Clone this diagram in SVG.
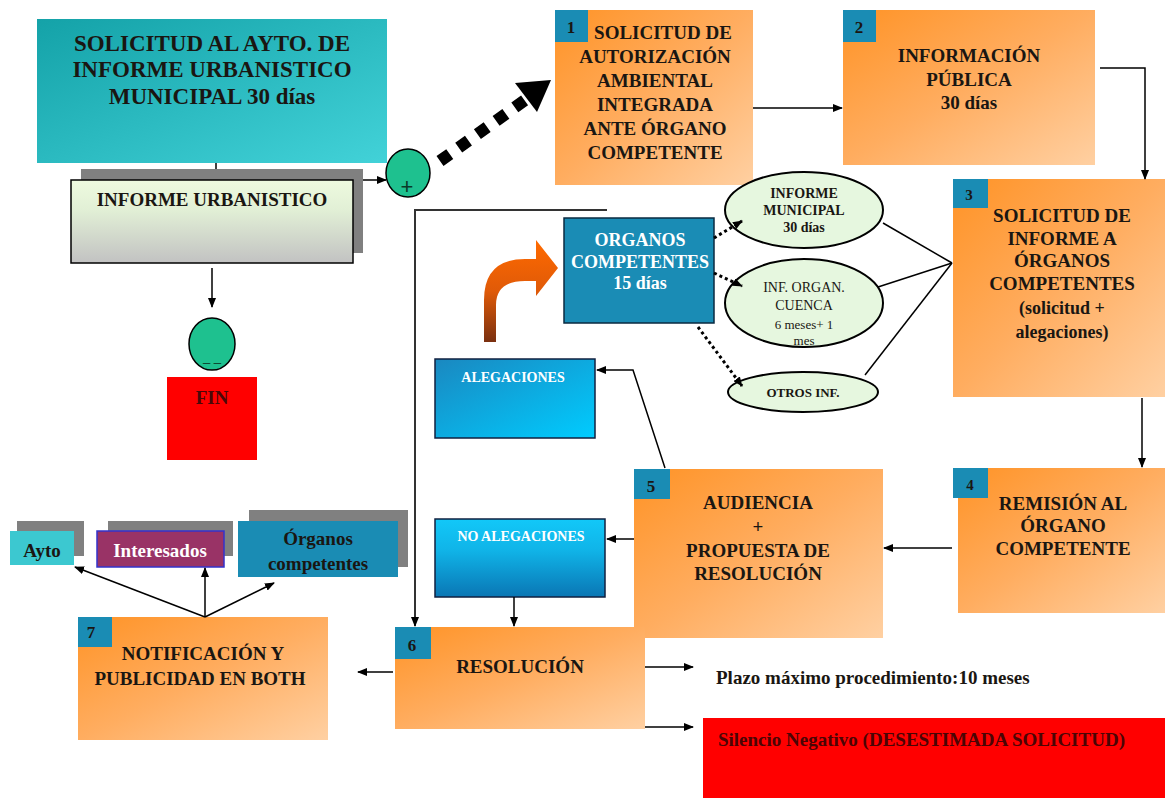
<svg xmlns="http://www.w3.org/2000/svg" width="1165" height="798" viewBox="0 0 1165 798">
<defs>
<linearGradient id="gOr" x1="0" y1="0" x2="1" y2="1"><stop offset="0" stop-color="#ff9326"/><stop offset="0.5" stop-color="#ffad60"/><stop offset="1" stop-color="#ffd0a2"/></linearGradient>
<linearGradient id="gTeal" x1="0" y1="0" x2="1" y2="1"><stop offset="0" stop-color="#14a2a8"/><stop offset="1" stop-color="#42d2d8"/></linearGradient>
<linearGradient id="gInf" x1="0" y1="0" x2="0" y2="1"><stop offset="0" stop-color="#eefadf"/><stop offset="0.35" stop-color="#e2f0d6"/><stop offset="1" stop-color="#c2c2c2"/></linearGradient>
<linearGradient id="gAleg" x1="0" y1="0" x2="1" y2="1"><stop offset="0" stop-color="#1a88c0"/><stop offset="1" stop-color="#00ccff"/></linearGradient>
<linearGradient id="gNoAleg" x1="0" y1="0" x2="0" y2="1"><stop offset="0" stop-color="#12c8f8"/><stop offset="0.4" stop-color="#10b4e8"/><stop offset="1" stop-color="#0a76b4"/></linearGradient>
<linearGradient id="gCurve" x1="0" y1="0" x2="0" y2="1"><stop offset="0" stop-color="#ff6a00"/><stop offset="0.5" stop-color="#e05a08"/><stop offset="1" stop-color="#7a3010"/></linearGradient>
<marker id="ah" markerUnits="userSpaceOnUse" markerWidth="10" markerHeight="8" refX="9" refY="4" orient="auto"><path d="M0,0 L10,4 L0,8 z" fill="#000"/></marker>
<style>
.t{font-family:"Liberation Serif","Times New Roman",serif;font-weight:bold;fill:#1a1612;text-anchor:middle;font-size:19px}
.w{fill:#ffffff}
.n{font-family:"Liberation Serif","Times New Roman",serif;font-weight:bold;fill:#1a1612;text-anchor:middle;font-size:17px}
.or{fill:url(#gOr)}
.badge{fill:#1a8cb4}
.sh{fill:#808080}
.ell{fill:#e6f7df;stroke:#000;stroke-width:2}
.c{fill:none;stroke:#000;stroke-width:1.5}
.ca{fill:none;stroke:#000;stroke-width:1.5;marker-end:url(#ah)}
.dot{fill:none;stroke:#000;stroke-width:3;stroke-dasharray:3 3;marker-end:url(#ah)}
</style>
</defs>
<rect width="1165" height="798" fill="#ffffff"/>

<g id="solicitud-ayto">
<rect x="37" y="19" width="350" height="144" fill="url(#gTeal)"/>
<text class="t" style="font-size:23px" x="212" y="51">SOLICITUD AL AYTO. DE</text>
<text class="t" style="font-size:23px" x="212" y="77">INFORME URBANISTICO</text>
<text class="t" style="font-size:23px" x="212" y="104">MUNICIPAL 30 días</text>
</g>

<g id="informe-urbanistico">
<rect class="sh" x="81" y="169" width="282" height="84"/>
<rect x="71" y="180" width="282" height="83" fill="url(#gInf)" stroke="#000" stroke-width="1.5"/>
<text class="t" x="212" y="206">INFORME URBANISTICO</text>
</g>

<g id="plus">
<ellipse cx="408" cy="173" rx="22" ry="24" fill="#1ec18f" stroke="#000" stroke-width="1.5"/>
<text x="407" y="194" style="font-family:'Liberation Sans',sans-serif;font-size:22px;fill:#0a3a28;text-anchor:middle">+</text>
</g>

<g id="minus">
<ellipse cx="212" cy="344" rx="23" ry="26" fill="#1ec18f" stroke="#000" stroke-width="1.5"/>
<text x="212" y="361" style="font-family:'Liberation Sans',sans-serif;font-size:13px;fill:#0a3a28;text-anchor:middle">_ _</text>
</g>

<g id="fin">
<rect x="167" y="377" width="90" height="83" fill="#ff0000"/>
<text class="t" x="212" y="404" style="fill:#4a0808">FIN</text>
</g>

<g id="paso1">
<rect class="or" x="555" y="10" width="198" height="175"/>
<rect class="badge" x="555" y="10" width="33" height="32"/>
<text class="n" x="571" y="33">1</text>
<text class="t" x="663" y="39">SOLICITUD DE</text>
<text class="t" x="655" y="63">AUTORIZACIÓN</text>
<text class="t" x="655" y="87">AMBIENTAL</text>
<text class="t" x="655" y="111">INTEGRADA</text>
<text class="t" x="655" y="135">ANTE ÓRGANO</text>
<text class="t" x="655" y="159">COMPETENTE</text>
</g>

<g id="paso2">
<rect class="or" x="843" y="10" width="252" height="155"/>
<rect class="badge" x="843" y="10" width="33" height="32"/>
<text class="n" x="859" y="33">2</text>
<text class="t" x="969" y="62">INFORMACIÓN</text>
<text class="t" x="969" y="86">PÚBLICA</text>
<text class="t" x="969" y="109">30 días</text>
</g>

<g id="paso3">
<rect class="or" x="953" y="179" width="212" height="218"/>
<rect class="badge" x="953" y="179" width="35" height="29"/>
<text class="n" x="969" y="200" style="font-size:15px">3</text>
<text class="t" x="1062" y="222">SOLICITUD DE</text>
<text class="t" x="1062" y="245">INFORME A</text>
<text class="t" x="1062" y="267">ÓRGANOS</text>
<text class="t" x="1062" y="290">COMPETENTES</text>
<text class="t" x="1062" y="314" style="font-size:18px">(solicitud +</text>
<text class="t" x="1062" y="338" style="font-size:18px">alegaciones)</text>
</g>

<g id="paso4">
<rect class="or" x="958" y="468" width="207" height="145"/>
<rect class="badge" x="953" y="468" width="35" height="30"/>
<text class="n" x="970" y="490" style="font-size:15px">4</text>
<text class="t" x="1063" y="510">REMISIÓN AL</text>
<text class="t" x="1063" y="532">ÓRGANO</text>
<text class="t" x="1063" y="555">COMPETENTE</text>
</g>

<g id="paso5">
<rect class="or" x="634" y="469" width="249" height="169"/>
<rect class="badge" x="634" y="469" width="36" height="30"/>
<text class="n" x="651" y="492">5</text>
<text class="t" x="758" y="509">AUDIENCIA</text>
<text class="t" x="758" y="533">+</text>
<text class="t" x="758" y="557">PROPUESTA DE</text>
<text class="t" x="758" y="580">RESOLUCIÓN</text>
</g>

<g id="paso6">
<rect class="or" x="395" y="627" width="250" height="102"/>
<rect class="badge" x="395" y="627" width="36" height="32"/>
<text class="n" x="412" y="651">6</text>
<text class="t" x="520" y="673">RESOLUCIÓN</text>
</g>

<g id="paso7">
<rect class="or" x="78" y="617" width="250" height="123"/>
<rect class="badge" x="78" y="617" width="34" height="30"/>
<text class="n" x="91" y="638">7</text>
<text class="t" x="203" y="660">NOTIFICACIÓN Y</text>
<text class="t" x="200" y="685">PUBLICIDAD EN BOTH</text>
</g>

<g id="organos-competentes">
<rect x="564" y="218" width="150" height="105" fill="#1a8cb5" stroke="#0a2a40" stroke-width="1.5"/>
<text class="t w" x="640" y="246" style="font-size:18px">ORGANOS</text>
<text class="t w" x="640" y="268" style="font-size:18px">COMPETENTES</text>
<text class="t w" x="640" y="289" style="font-size:18px">15 días</text>
</g>

<g id="informe-municipal">
<ellipse class="ell" cx="804" cy="210" rx="79" ry="38"/>
<text class="t" x="804" y="198" style="font-size:14px">INFORME</text>
<text class="t" x="804" y="215" style="font-size:14px">MUNICIPAL</text>
<text class="t" x="804" y="232" style="font-size:14px">30 días</text>
</g>

<g id="inf-organ-cuenca">
<ellipse class="ell" cx="804" cy="303" rx="79" ry="44"/>
<text class="t" x="804" y="292" style="font-size:14px;font-weight:normal">INF. ORGAN.</text>
<text class="t" x="804" y="310" style="font-size:14px;font-weight:normal">CUENCA</text>
<text class="t" x="804" y="329" style="font-size:13px;font-weight:normal">6 meses+ 1</text>
<text class="t" x="804" y="345" style="font-size:13px;font-weight:normal">mes</text>
</g>

<g id="otros-inf">
<ellipse class="ell" cx="803" cy="392" rx="75" ry="20"/>
<text class="t" x="803" y="397" style="font-size:13px">OTROS INF.</text>
</g>

<g id="alegaciones">
<rect x="435" y="359" width="160" height="79" fill="url(#gAleg)" stroke="#102040" stroke-width="1.5"/>
<text class="t w" x="513" y="382" style="font-size:14px">ALEGACIONES</text>
</g>

<g id="no-alegaciones">
<rect x="435" y="519" width="170" height="78" fill="url(#gNoAleg)" stroke="#102040" stroke-width="1.5"/>
<text class="t w" x="521" y="541" style="font-size:14px">NO ALEGACIONES</text>
</g>

<g id="ayto">
<rect class="sh" x="17" y="521" width="67" height="35"/>
<rect x="10" y="531" width="64" height="34" fill="#3cc8d0"/>
<text class="t" x="42" y="557">Ayto</text>
</g>

<g id="interesados">
<rect class="sh" x="108" y="521" width="125" height="35"/>
<rect x="97" y="531" width="127" height="36" fill="#993366" stroke="#3333cc" stroke-width="1.5"/>
<text class="t w" x="160" y="557">Interesados</text>
</g>

<g id="organos-notif">
<rect class="sh" x="249" y="510" width="159" height="57"/>
<rect x="238" y="521" width="160" height="56" fill="#1a8cb4"/>
<text class="t" x="318" y="545">Órganos</text>
<text class="t" x="318" y="570">competentes</text>
</g>

<g id="plazo">
<text class="t" x="716" y="684" style="text-anchor:start">Plazo máximo procedimiento:10 meses</text>
</g>

<g id="silencio-negativo">
<rect x="703" y="718" width="462" height="80" fill="#ff0000"/>
<text class="t" x="718" y="746" style="text-anchor:start;fill:#4a0505">Silencio Negativo (DESESTIMADA SOLICITUD)</text>
</g>

<g id="connectors">
<line class="c" x1="216" y1="163" x2="216" y2="169"/>
<line class="ca" x1="363" y1="180" x2="386" y2="180"/>
<line x1="440" y1="161" x2="528" y2="98" stroke="#000" stroke-width="12" stroke-dasharray="12 11"/>
<polygon points="551,80 537,112 515,83" fill="#000"/>
<line class="ca" x1="212" y1="268" x2="212" y2="307"/>
<line class="ca" x1="753" y1="108" x2="842" y2="108"/>
<polyline class="ca" points="1100,68 1145,68 1145,179"/>
<line class="ca" x1="1142" y1="398" x2="1142" y2="467"/>
<line class="ca" x1="952" y1="548" x2="884" y2="548"/>
<line class="ca" x1="634" y1="539" x2="607" y2="539"/>
<polyline class="ca" points="665,468 633,370 597,370"/>
<line class="ca" x1="514" y1="597" x2="514" y2="626"/>
<polyline class="ca" points="607,210 415,210 415,626" style="stroke:#333;stroke-width:2"/>
<line class="ca" x1="645" y1="667" x2="693" y2="667"/>
<line class="ca" x1="645" y1="727" x2="693" y2="727"/>
<line class="ca" x1="393" y1="672" x2="358" y2="672"/>
<line class="ca" x1="205" y1="617" x2="75" y2="567"/>
<line class="ca" x1="205" y1="617" x2="205" y2="568"/>
<line class="ca" x1="205" y1="617" x2="274" y2="583"/>
<line class="c" x1="883" y1="223" x2="952" y2="263"/>
<line class="c" x1="878" y1="287" x2="952" y2="263"/>
<line class="c" x1="865" y1="375" x2="952" y2="263"/>
<line class="dot" x1="714" y1="238" x2="742" y2="221"/>
<line class="dot" x1="714" y1="273" x2="742" y2="286"/>
<line class="dot" x1="698" y1="327" x2="742" y2="386"/>
<path d="M484,342 L484,300 Q484,259 525,259 L536,259 L536,240 L558,268 L536,296 L536,281 L525,281 Q496,281 496,305 L496,342 Z" fill="url(#gCurve)"/>
</g>
</svg>
